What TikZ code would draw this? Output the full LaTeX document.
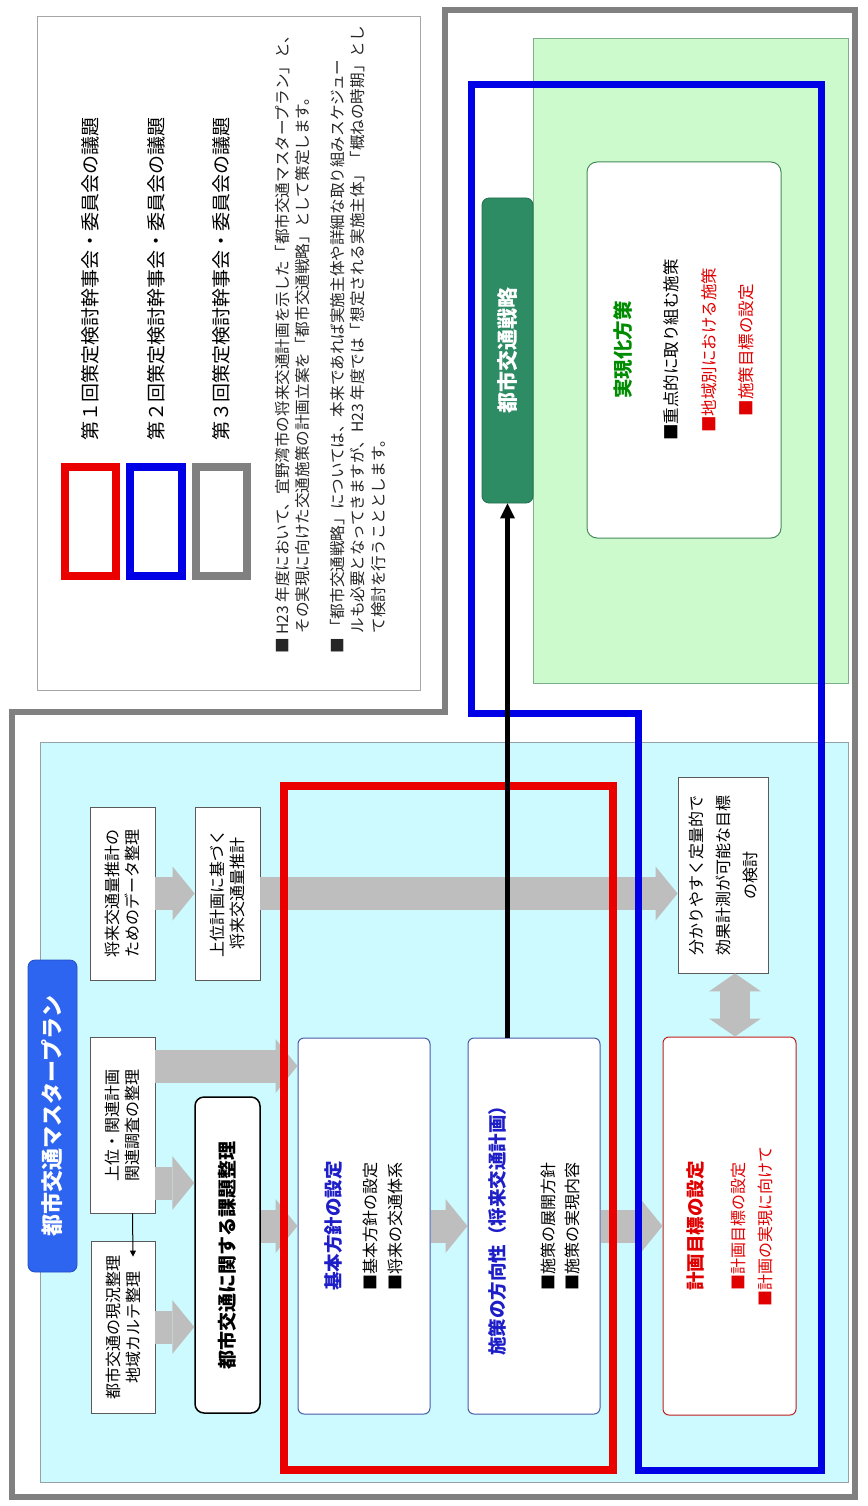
\documentclass[tikz,border=0pt]{standalone}
\usepackage{fontspec}
\setmainfont{Noto Sans CJK JP}
\usetikzlibrary{arrows.meta,calc}
\definecolor{cyanpanel}{RGB}{205,250,255}
\definecolor{greenpanel}{RGB}{205,250,205}
\definecolor{panelline}{RGB}{150,160,165}
\definecolor{framegray}{RGB}{128,128,128}
\definecolor{mred}{RGB}{235,0,0}
\definecolor{mblue}{RGB}{0,0,230}
\definecolor{titleblue}{RGB}{45,100,240}
\definecolor{stratgreen}{RGB}{45,140,100}
\definecolor{tblue}{RGB}{30,30,200}
\definecolor{tred}{RGB}{225,0,0}
\definecolor{tgreen}{RGB}{0,140,0}
\definecolor{arrowgray}{RGB}{190,190,190}
\definecolor{boxline}{RGB}{90,90,90}
\definecolor{fline}{RGB}{70,90,170}
\definecolor{iline}{RGB}{190,30,30}
\definecolor{gline}{RGB}{70,140,90}
\begin{document}
\begin{tikzpicture}[x=1pt,y=-1pt,
  rbox/.style={rotate=90, inner sep=0pt, align=center},
  plainbox/.style={rbox, draw=boxline, line width=0.8pt, fill=white, font=\fontsize{16}{20}\selectfont},
  legendbox/.style={draw, line width=8pt, fill=white, minimum height=109pt, inner sep=0pt},
  legendtext/.style={rbox, anchor=west, font=\fontsize{19}{22}\selectfont},
  titlebox/.style={rbox, fill=titleblue, draw=titleblue!80!black, line width=0.8pt, rounded corners=7pt, text=white, font=\bfseries\fontsize{22}{24}\selectfont},
  stratbox/.style={rbox, fill=stratgreen, draw=stratgreen!80!black, line width=0.8pt, rounded corners=7pt, text=white, font=\bfseries\fontsize{21}{24}\selectfont},
  fat/.style={draw=arrowgray, line width=33pt, -{Triangle[length=22pt,width=54pt,line width=0pt]}},
  fatboth/.style={draw=arrowgray, line width=30pt, {Triangle[length=18pt,width=52pt,line width=0pt]}-{Triangle[length=18pt,width=52pt,line width=0pt]}},
  thinarrow/.style={draw=black, line width=1pt, -{Triangle[length=6pt,width=6pt]}},
  blackarrow/.style={draw=black, line width=4.5pt, -{Triangle[length=15pt,width=15pt,line width=0pt]}}
]
\useasboundingbox (0,0) rectangle (867,1506);
\fill[white] (0,0) rectangle (867,1506);

% legend area
\draw[draw=framegray!70, line width=1pt, fill=white] (37,17) rectangle (420,690);
\node[legendbox, draw=mred, minimum width=51pt] (lr) at (90.5,521.5) {};
\node[legendbox, draw=mblue, minimum width=52pt] (lb) at (156,521.5) {};
\node[legendbox, draw=framegray, minimum width=51pt] (lg) at (221.5,521.5) {};
\node[legendtext] (t1) at (90,441) {第１回策定検討幹事会・委員会の議題};
\node[legendtext] (t2) at (156,441) {第２回策定検討幹事会・委員会の議題};
\node[legendtext] (t3) at (221,441) {第３回策定検討幹事会・委員会の議題};
\node[rbox, anchor=north west, align=left, text=black!85, font=\fontsize{15.6}{20.5}\selectfont] (notes) at (275,654)
 {■ H23 年度において、宜野湾市の将来交通計画を示した「都市交通マスタープラン」と、\\
  \hspace*{1.3em}その実現に向けた交通施策の計画立案を「都市交通戦略」として策定します。\\[14pt]
  ■ 「都市交通戦略」については、本来であれば実施主体や詳細な取り組みスケジュー\\
  \hspace*{1.3em}ルも必要となってきますが、H23 年度では「想定される実施主体」「概ねの時期」とし\\
  \hspace*{1.3em}て検討を行うこととします。};

% outer frame and panels
\draw[line width=6pt, framegray] (12,712) -- (445,712) -- (445,10) -- (855,10) -- (855,1497) -- (12,1497) -- cycle;
\filldraw[fill=cyanpanel, draw=panelline, line width=0.8pt] (40,742) rectangle (848,1482);
\filldraw[fill=greenpanel, draw=gline!70, line width=0.8pt] (533,38) rectangle (848,683);

% master plan side
\node[titlebox, minimum width=312pt, minimum height=49pt] (title) at (52.5,1116) {都市交通マスタープラン};
\node[plainbox, minimum width=172pt, minimum height=64pt] (A) at (123,1327) {都市交通の現況整理\\地域カルテ整理};
\node[plainbox, minimum width=176pt, minimum height=65pt] (B) at (122.5,1125) {上位・関連計画\\関連調査の整理};
\node[plainbox, minimum width=173pt, minimum height=65pt] (C) at (122.5,893.5) {将来交通量推計の\\ためのデータ整理};
\node[plainbox, minimum width=173pt, minimum height=65pt] (D) at (227.5,893.5) {上位計画に基づく\\将来交通量推計};
\node[rbox, draw=black, line width=1.5pt, fill=white, rounded corners=9pt, minimum width=316pt, minimum height=65pt,
      font=\bfseries\fontsize{19}{22}\selectfont] (E) at (227.5,1255) {都市交通に関する課題整理};
\node[rbox, draw=fline, line width=1pt, fill=white, rounded corners=6pt, minimum width=376pt, minimum height=132pt,
      font=\fontsize{16}{25}\selectfont] (F) at (364,1226)
 {{\color{tblue}\bfseries\fontsize{18.5}{25}\selectfont 基本方針の設定}\\[11pt]■基本方針の設定\\■将来の交通体系};
\node[rbox, draw=fline, line width=1pt, fill=white, rounded corners=6pt, minimum width=376pt, minimum height=132pt,
      font=\fontsize{16}{24}\selectfont] (G) at (534,1226)
 {{\color{tblue}\bfseries\fontsize{18.5}{24}\selectfont 施策の方向性（将来交通計画）}\\[26pt]■施策の展開方針\\■施策の実現内容};
\node[plainbox, minimum width=196pt, minimum height=90pt, font=\fontsize{16}{27}\selectfont] (H) at (723,875)
 {分かりやすく定量的で\\効果計測が可能な目標\\の検討};
\node[rbox, draw=iline, line width=1pt, fill=white, rounded corners=6pt, minimum width=378pt, minimum height=133pt,
      text=tred, font=\fontsize{16}{27}\selectfont] (I) at (729.5,1226)
 {{\bfseries\fontsize{18.5}{27}\selectfont 計画目標の設定}\\[15pt]■計画目標の設定\\■計画の実現に向けて};

% strategy side
\node[stratbox, minimum width=305pt, minimum height=51pt] (strat) at (507.5,350.5) {都市交通戦略};
\node[rbox, draw=gline, line width=1pt, fill=white, rounded corners=10pt, minimum width=376pt, minimum height=194pt,
      font=\fontsize{16.5}{37.5}\selectfont] (real) at (684,350)
 {{\color{tgreen}\bfseries\fontsize{19.5}{37.5}\selectfont 実現化方策}\\[9.5pt]■重点的に取り組む施策\\{\color{tred}■地域別における施策}\\{\color{tred}■施策目標の設定}};

% gray block arrows
\coordinate (bE) at ($(B.south)+(0,58)$);
\coordinate (bF) at ($(B.south)+(0,-59)$);
\coordinate (hb) at ($(H.west)+(12,0)$);
\draw[fat] (A.south) -- (A.south -| E.north);
\draw[fat] (bE) -- (bE -| E.north);
\draw[fat] (bF) -- (bF -| F.north);
\draw[fat] (C.south) -- (D.north);
\draw[fat] (F.north -| E.south) -- (F.north);
\draw[fat] (F.south) -- (G.north);
\draw[fat] (G.south) -- (I.north);
\draw[fat] (D.south) -- (D.south -| H.north);
\draw[fatboth] (hb) -- (hb |- I.east);

% thin arrow from B to A
\coordinate (ba) at ($(A.east)+(10,16)$);
\draw[thinarrow] ($(B.west)+(10,0)$) -- (ba);

% meeting outlines
\draw[mred, line width=8pt] (284,786) rectangle (613,1470);
\draw[mblue, line width=7pt, line join=miter] (471.5,85) -- (821,85) -- (821,1470) -- (638.5,1470) -- (638.5,713) -- (471.5,713) -- cycle;

% black arrow to strategy
\draw[blackarrow] (strat.west |- G.east) -- (strat.west);
\end{tikzpicture}
\end{document}
